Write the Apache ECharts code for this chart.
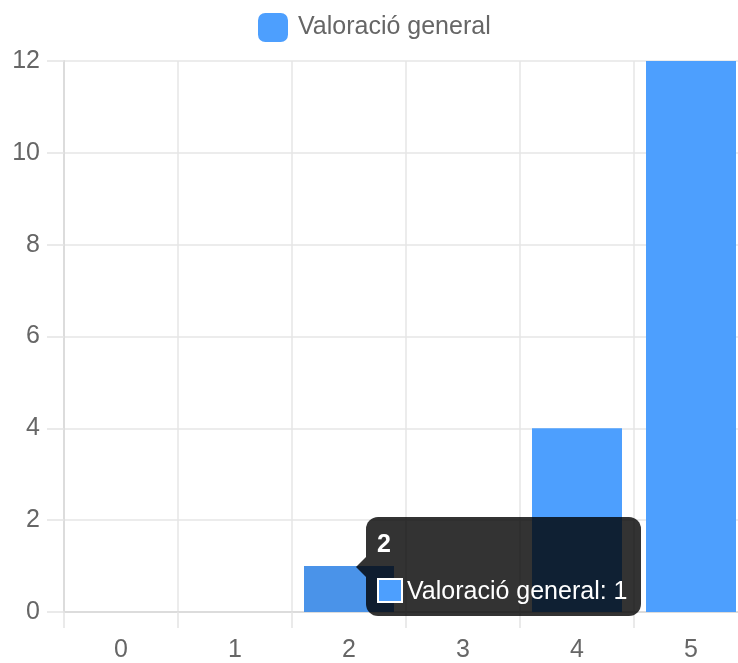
<!DOCTYPE html>
<html>
<head>
<meta charset="utf-8">
<script src="https://cdn.jsdelivr.net/npm/echarts@6/dist/echarts.min.js"></script>
<style>
html,body{margin:0;padding:0;background:#fff;overflow:hidden;width:738px;height:663px;}
#chart{width:748px;height:663px;}
</style>
</head>
<body>
<div id="chart"></div>
<script>
const categories = ['0', '1', '2', '3', '4', '5'];
const values = [0, 0, 1, 0, 4, 12];
const yTicks = [0, 2, 4, 6, 8, 10, 12];
const seriesName = 'Valoració general';
const activeIndex = 2;

const baseColor = '#4d9ffe';
const activeColor = '#4a93e9';
const font = '"Liberation Sans", Arial, Helvetica, sans-serif';
const fs = 25;

const chart = echarts.init(document.getElementById('chart'), null, {renderer: 'canvas'});

const option = {
  animation: false,
  textStyle: {fontFamily: font},
  legend: {
    data: [seriesName],
    left: 258,
    top: 13,
    padding: 0,
    icon: 'roundRect',
    itemWidth: 30,
    itemHeight: 29,
    selectedMode: false,
    textStyle: {fontFamily: font, fontSize: fs, color: '#666', padding: [5, 0, 0, 5]}
  },
  grid: {left: 64, top: 61, right: 0, bottom: 50, containLabel: false},
  xAxis: {
    type: 'category',
    data: categories,
    boundaryGap: true,
    axisLine: {show: true, lineStyle: {color: '#dcdcdc', width: 2}},
    axisTick: {show: true, length: 16, alignWithLabel: false, lineStyle: {color: '#e3e3e3', width: 1.5}},
    splitLine: {show: true, lineStyle: {color: '#e6e6e6', width: 1.5}},
    axisLabel: {fontFamily: font, fontSize: fs, color: '#666', margin: 26}
  },
  yAxis: {
    type: 'value',
    min: yTicks[0],
    max: yTicks[yTicks.length - 1],
    interval: yTicks[1] - yTicks[0],
    axisLine: {show: true, lineStyle: {color: '#dcdcdc', width: 2}},
    axisTick: {show: true, length: 17, lineStyle: {color: '#e3e3e3', width: 1.5}},
    splitLine: {show: true, lineStyle: {color: '#e6e6e6', width: 1.5}},
    axisLabel: {fontFamily: font, fontSize: fs, color: '#666', margin: 24}
  },
  tooltip: {
    trigger: 'item',
    alwaysShowContent: true,
    triggerOn: 'none',
    transitionDuration: 0,
    backgroundColor: 'rgba(0,0,0,0.8)',
    borderWidth: 0,
    padding: [12, 13, 12, 11],
    extraCssText: 'border-radius:12px;box-shadow:none;overflow:visible;',
    position: function () {
      const p = chart.convertToPixel({seriesIndex: 0}, [activeIndex, values[activeIndex]]);
      return [p[0] + 17, p[1] - 49];
    },
    formatter: function (params) {
      const ff = font.replace(/"/g, "'");
      return '<div style="position:absolute;left:-10px;top:50%;margin-top:-10px;width:0;height:0;' +
        'border-top:10px solid transparent;border-bottom:10px solid transparent;border-right:10px solid rgba(0,0,0,0.8);"></div>' +
        '<div style="font-family:' + ff + ';font-size:' + fs + 'px;font-weight:bold;color:#fff;line-height:28px;">' +
        params.name + '</div>' +
        '<div style="margin-top:19px;display:flex;align-items:center;font-family:' + ff +
        ';font-size:' + fs + 'px;color:#fff;line-height:28px;">' +
        '<span style="display:inline-block;box-sizing:border-box;width:26px;height:25px;border:2px solid #fff;background:' +
        baseColor + ';margin-right:4px;"></span>' +
        params.seriesName + ': ' + params.value + '</div>';
    }
  },
  series: [{
    name: seriesName,
    type: 'bar',
    barWidth: 90,
    itemStyle: {color: baseColor},
    emphasis: {disabled: true},
    data: values.map(function (v, i) {
      return i === activeIndex ? {value: v, itemStyle: {color: activeColor}} : v;
    })
  }]
};

chart.setOption(option);
function showTip() {
  chart.dispatchAction({type: 'showTip', seriesIndex: 0, dataIndex: activeIndex});
}
showTip();
setTimeout(showTip, 50);
</script>
</body>
</html>
